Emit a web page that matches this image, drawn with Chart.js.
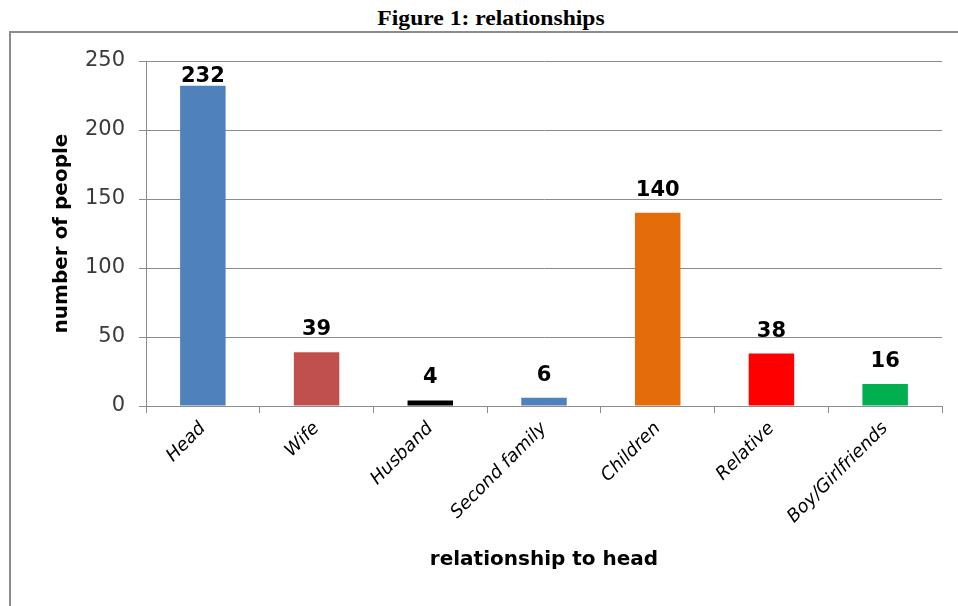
<!DOCTYPE html>
<html>
<head>
<meta charset="utf-8">
<script src="https://cdn.jsdelivr.net/npm/chart.js@4.4.0/dist/chart.umd.min.js"></script>
<style>
    body { margin: 0; background: #ffffff; width: 958px; height: 606px; overflow: hidden; position: relative; }
    #title {
        position: absolute; left: 491px; top: 7px; transform: translateX(-50%) scaleX(1.18);
        font-family: "Liberation Serif", "Times New Roman", serif; font-weight: bold; font-size: 20px;
        white-space: nowrap; color: #000;
    }
    #frame {
        position: absolute; left: 9px; top: 31px; width: 1000px; height: 700px;
        border: 2px solid #8c8c8c;
    }
    #relChart { position: absolute; left: 0; top: 0; }
</style>
</head>
<body>
<div id="title">Figure 1: relationships</div>
<div id="frame"></div>
<canvas id="relChart" width="958" height="606"></canvas>
<script>
// Relationships chart data
const categories = ['Head', 'Wife', 'Husband', 'Second family', 'Children', 'Relative', 'Boy/Girlfriends'];
const peopleCounts = [232, 39, 4, 6, 140, 38, 16];
const barColors = ['#4F81BD', '#C0504D', '#000000', '#4F81BD', '#E46C0A', '#FF0000', '#00B050'];
const yTicks = [0, 50, 100, 150, 200, 250];

// draws the value above each bar, kept inside the plot area
const valueLabels = {
    id: 'valueLabels',
    afterDatasetsDraw(chart) {
        const ctx = chart.ctx;
        const meta = chart.getDatasetMeta(0);
        ctx.save();
        ctx.font = 'bold 21px "DejaVu Sans"';
        ctx.fillStyle = '#000000';
        ctx.textAlign = 'center';
        ctx.textBaseline = 'alphabetic';
        meta.data.forEach(function(bar, i) {
            const y = Math.max(bar.y - 17, chart.chartArea.top + 21);
            ctx.fillText(String(peopleCounts[i]), bar.x, y);
        });
        ctx.restore();
    }
};

const relCtx = document.getElementById('relChart');
new Chart(relCtx, {
    type: 'bar',
    data: {
        labels: categories,
        datasets: [{
            data: peopleCounts,
            backgroundColor: barColors,
            borderWidth: 0,
            barPercentage: 0.4,
            categoryPercentage: 1
        }]
    },
    options: {
        responsive: false,
        animation: false,
        layout: {
            padding: { top: 61, right: 16, bottom: 0, left: 0 }
        },
        plugins: {
            legend: { display: false },
            tooltip: { enabled: false }
        },
        scales: {
            x: {
                grid: {
                    display: true,
                    drawOnChartArea: false,
                    drawTicks: true,
                    tickLength: 7,
                    color: '#8c8c8c',
                    offset: true
                },
                border: { display: true, color: '#8c8c8c', width: 1 },
                ticks: {
                    autoSkip: false,
                    minRotation: 45,
                    maxRotation: 45,
                    padding: 5,
                    color: '#000000',
                    font: { family: '"DejaVu Sans"', size: 18, style: 'italic' }
                },
                title: {
                    display: true,
                    text: 'relationship to head',
                    color: '#000000',
                    font: { family: '"DejaVu Sans"', size: 20, weight: 'bold' },
                    padding: { top: 0, bottom: 34 }
                },
                afterFit: function(scale) { scale.height = 200; }
            },
            y: {
                min: 0,
                max: 250,
                afterBuildTicks: function(scale) {
                    scale.ticks = yTicks.map(function(v) { return { value: v }; });
                },
                grid: {
                    color: '#8c8c8c',
                    tickLength: 7,
                    drawTicks: true
                },
                border: { display: true, color: '#8c8c8c', width: 1 },
                ticks: {
                    padding: 14,
                    color: '#3a3a3a',
                    font: { family: '"DejaVu Sans"', size: 21 }
                },
                title: {
                    display: true,
                    text: 'number of people',
                    color: '#000000',
                    font: { family: '"DejaVu Sans"', size: 20, weight: 'bold' },
                    padding: { top: 50, bottom: 0 }
                },
                afterFit: function(scale) { scale.width = 146; }
            }
        }
    },
    plugins: [valueLabels]
});
</script>
</body>
</html>
